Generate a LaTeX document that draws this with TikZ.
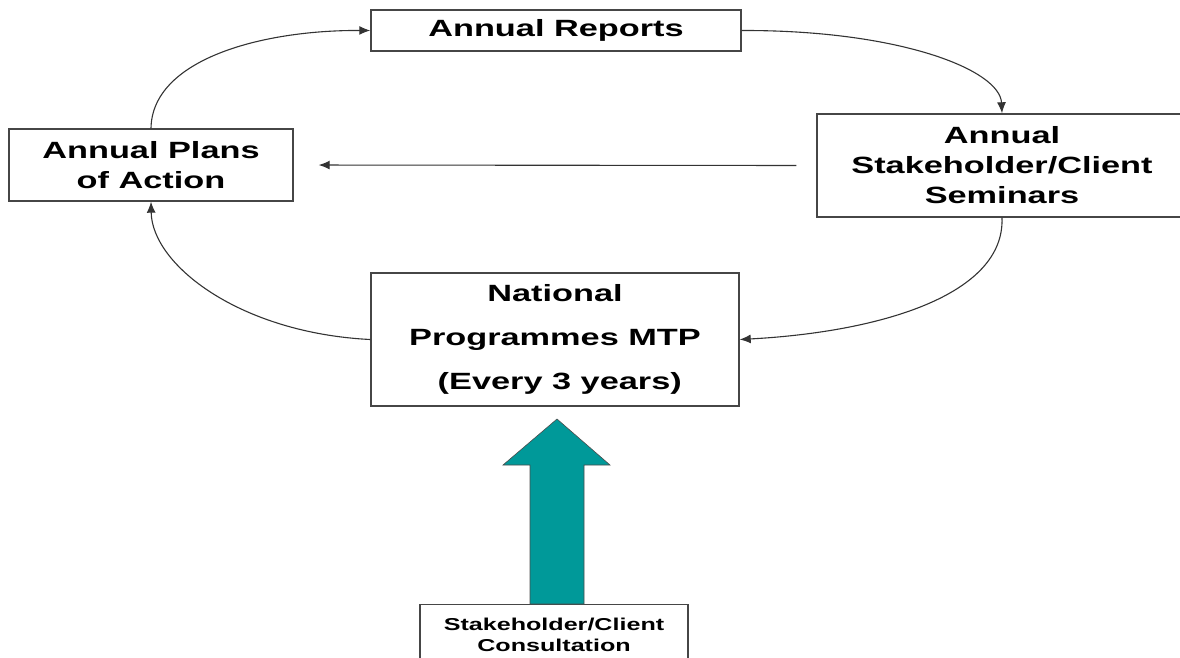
\documentclass[tikz,border=0pt]{standalone}
\usepackage{fontspec}
\newfontfamily\lab{Liberation Sans}[FakeStretch=1.46]
\usetikzlibrary{arrows.meta}
\definecolor{teal1}{RGB}{0,153,153}
\definecolor{edge}{RGB}{70,70,70}
\tikzset{
  box/.style={draw=edge, line width=1.4pt, fill=white, align=center, inner sep=0pt,
    font=\lab\bfseries\fontsize{23.5}{30}\selectfont},
  conn/.style={draw=black!80, line width=1.1pt, -{Latex[length=11pt,width=9pt]}}
}
\begin{document}
\begin{tikzpicture}[x=1pt,y=-1pt]
\useasboundingbox (0,0) rectangle (1180,657);
\clip (0,0) rectangle (1180,657);
\node[box, minimum width=370pt, minimum height=41pt] (reports) at (556,30.5) {Annual Reports};
\node[box, minimum width=370pt, minimum height=103pt] (seminars) at (1002,165.5) {Annual\\Stakeholder/Client\\Seminars};
\node[box, minimum width=284pt, minimum height=72pt] (plans) at (151,165) {Annual Plans\\of Action};
\node[box, minimum width=368pt, minimum height=133pt,
  font=\lab\bfseries\fontsize{23.5}{44}\selectfont] (national) at (555,339.5) {\rule{0pt}{4pt}National\\Programmes MTP\\\ (Every 3 years)};
\node[box, anchor=north, minimum width=268pt, inner ysep=13pt,
  font=\lab\bfseries\fontsize{17.2}{21}\selectfont] (consult) at (554,604) {Stakeholder/Client\\Consultation};
% block arrow
\draw[draw=black!70, line width=0.6pt, fill=teal1]
  (530,604) -- (530,465) -- (503,465) -- (557,419) -- (610,465) -- (584,465) -- (584,604) -- cycle;
% connectors
\draw[conn] (plans.north) .. controls (152,60) and (260,30) .. (reports.west);
\draw[conn] (reports.east) .. controls (900,30) and (1000,70) .. (seminars.north);
\draw[conn, shorten <=20pt, shorten >=25pt] (seminars.west) -- (plans.east);
\draw[conn] (seminars.south) .. controls (1005,295) and (880,332) .. (national.east);
\draw[conn] (national.west) .. controls (240,333) and (152,265) .. (plans.south);
\end{tikzpicture}
\end{document}
